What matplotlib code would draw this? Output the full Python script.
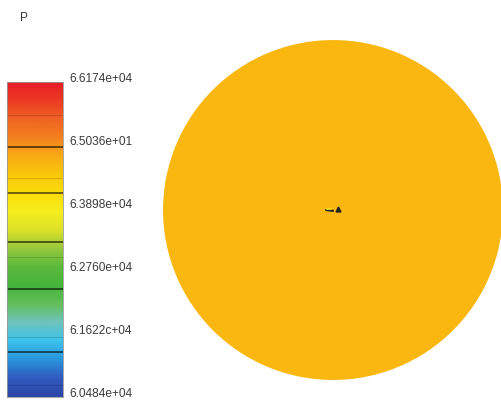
import numpy as np
import matplotlib
matplotlib.use("Agg")
import matplotlib.pyplot as plt
from matplotlib.colors import LinearSegmentedColormap, Normalize
from matplotlib.patches import Circle

# pressure range / colorbar ticks
p_min = 6.0484e4
p_max = 6.6174e4
tick_vals = [6.0484e4, 6.1622e4, 6.2760e4, 6.3898e4, 6.5036e4, 6.6174e4]
tick_labels = ["6.0484e+04", "6.1622c+04", "6.2760e+04", "6.3898e+04", "6.5036e+01", "6.6174e+04"]

# band lines seen in the legend
dark_levels = [61297, 62435, 63284, 64168, 65000]
faint_levels = [60701, 61568, 63012, 64439, 65577]

# legend colours, bottom to top
bar_colors = [
    (45, 70, 170), (50, 90, 190), (40, 150, 220), (60, 195, 235),
    (110, 195, 190), (100, 190, 90), (70, 180, 60), (90, 185, 60),
    (150, 200, 60), (220, 225, 40), (245, 238, 30), (252, 220, 10),
    (250, 200, 10), (248, 172, 20), (243, 130, 30), (240, 100, 35),
    (236, 60, 35), (232, 30, 40),
]

# pressure on the disk (almost uniform)
p_disk = 64700

cmap = LinearSegmentedColormap.from_list("fluent", [tuple(c / 255 for c in rgb) for rgb in bar_colors])
norm = Normalize(p_min, p_max)


def darker(c, f):
    return tuple(x * f for x in c[:3])


plt.rcParams['font.family'] = ['Liberation Sans', 'DejaVu Sans']
fig = plt.figure(figsize=(5.01, 4.0), dpi=100)

# colorbar
cax = fig.add_axes([7 / 501, 3 / 400, 56 / 501, 315 / 400])
grad = np.linspace(p_min, p_max, 400).reshape(-1, 1)
cax.imshow(grad, cmap=cmap, norm=norm, aspect="auto", origin="lower",
           extent=[0, 1, p_min, p_max])
for lv in dark_levels:
    cax.axhline(lv, color=darker(cmap(norm(lv)), 0.38), lw=1.3)
for lv in faint_levels:
    cax.axhline(lv, color=darker(cmap(norm(lv)), 0.75), lw=0.7, alpha=0.6)
cax.set_xlim(0, 1)
cax.set_ylim(p_min, p_max)
cax.set_xticks([])
cax.set_yticks([])
for s in cax.spines.values():
    s.set_color("#999999")
    s.set_linewidth(0.6)
for v, lab in zip(tick_vals, tick_labels):
    cax.text(1.12, v + 50, lab, transform=cax.get_yaxis_transform(), va="center", ha="left",
             fontsize=8.6, color="#3a3a3a", clip_on=False)

fig.text(20 / 501, 1 - 18 / 400, "P", fontsize=8.5, color="#333333", ha="left", va="center")

# disk
ax = fig.add_axes([(333 - 172) / 501, (400 - 382) / 400, 344 / 501, 344 / 400])
ax.add_patch(Circle((0, 0), 1.0, facecolor=cmap(norm(p_disk)), edgecolor="none"))
# small artefact at the centre
ax.plot([-0.04, 0.0], [0.0, -0.005], color="#222222", lw=1.6, solid_capstyle="round")
ax.plot([-0.035, -0.01], [0.008, 0.008], color="#f5e020", lw=1.2)
ax.plot([0.03], [0.005], marker="^", color="#222222", ms=3.5)
ax.set_xlim(-1.012, 1.012)
ax.set_ylim(-1.012, 1.012)
ax.set_aspect("equal")
ax.axis("off")

fig.savefig("out.png", dpi=100)
